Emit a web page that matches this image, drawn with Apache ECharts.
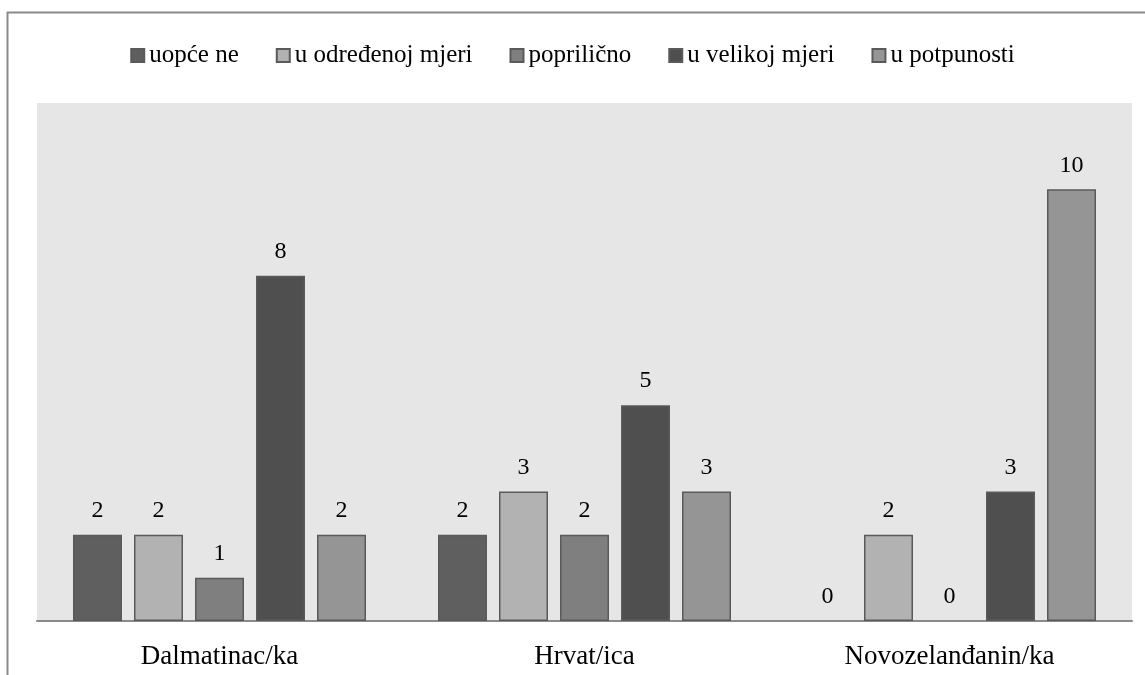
<!DOCTYPE html>
<html>
<head>
<meta charset="utf-8">
<script src="https://cdn.jsdelivr.net/npm/echarts@6/dist/echarts.min.js"></script>
<style>
html,body{margin:0;padding:0;background:#fff;}
#c{width:1145px;height:675px;}
</style>
</head>
<body>
<div id="c"></div>
<script>
const categories = ['Dalmatinac/ka', 'Hrvat/ica', 'Novozelanđanin/ka'];
const seriesNames = ['uopće ne', 'u određenoj mjeri', 'poprilično', 'u velikoj mjeri', 'u potpunosti'];
const uopceNe = [2, 2, 0];
const uOdredenojMjeri = [2, 3, 2];
const poprilicno = [1, 2, 0];
const uVelikojMjeri = [8, 5, 3];
const uPotpunosti = [2, 3, 10];
const colors = ['#5f5f5f', '#b2b2b2', '#7f7f7f', '#4f4f4f', '#959595'];

const values = [uopceNe, uOdredenojMjeri, poprilicno, uVelikojMjeri, uPotpunosti];
const font = '"Liberation Serif", "Times New Roman", serif';

const chart = echarts.init(document.getElementById('c'));
chart.setOption({
  animation: false,
  textStyle: { fontFamily: font },
  graphic: [{
    type: 'rect',
    shape: { x: 7.5, y: 12.5, width: 1200, height: 700 },
    style: { fill: 'none', stroke: '#8a8a8a', lineWidth: 2 },
    silent: true,
    z: -10
  }],
  legend: {
    top: 38,
    left: 'center',
    itemWidth: 13,
    itemHeight: 13,
    itemGap: 37,
    icon: 'rect',
    textStyle: { fontFamily: font, fontSize: 25, color: '#000' },
    data: seriesNames
  },
  grid: {
    left: 37, right: 13, top: 103, bottom: 54,
    show: true, backgroundColor: '#e6e6e6', borderWidth: 0
  },
  xAxis: {
    type: 'category',
    data: categories,
    axisLine: { lineStyle: { color: '#8a8a8a', width: 2 } },
    axisTick: { show: false },
    axisLabel: { fontFamily: font, fontSize: 27, color: '#000', margin: 22 }
  },
  yAxis: {
    type: 'value',
    min: 0, max: 12,
    show: false,
    splitLine: { show: false }
  },
  series: seriesNames.map((n, i) => ({
    name: n,
    type: 'bar',
    data: values[i].map(v => v === 0 ? { value: v, itemStyle: { borderWidth: 0 } } : v),
    barWidth: 49,
    barGap: '24.5%',
    itemStyle: { color: colors[i], borderColor: '#5a5a5a', borderWidth: 1.5 },
    label: { show: true, position: 'top', distance: 12, fontFamily: font, fontSize: 24, color: '#000' }
  }))
});
</script>
</body>
</html>
